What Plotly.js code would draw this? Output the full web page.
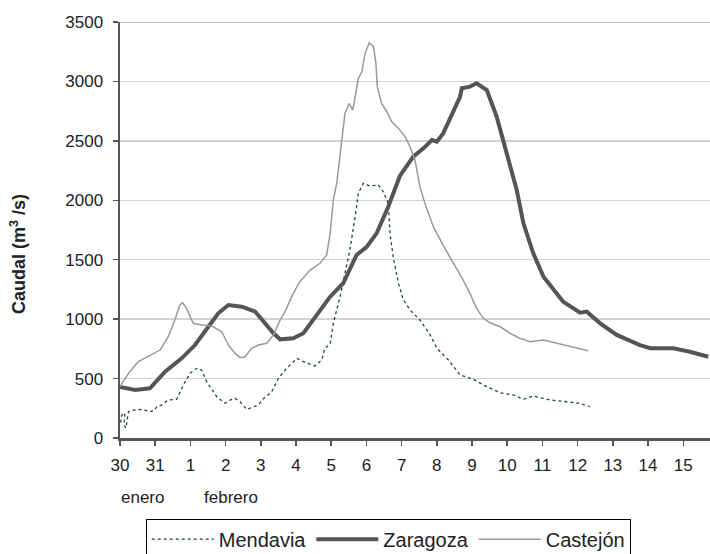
<!DOCTYPE html>
<html>
<head>
<meta charset="utf-8">
<script src="https://cdn.plot.ly/plotly-3.0.1.min.js"></script>
<style>html,body{margin:0;padding:0;background:#fff;}#chart{width:710px;height:554px;}</style>
</head>
<body>
<div id="chart"></div>
<script>
// x = days since 30 January
const dayLabels = ['30','31','1','2','3','4','5','6','7','8','9','10','11','12','13','14','15'];
const monthLabels = ['enero','febrero'];

const mendaviaX = [0.02,0.05,0.14,0.11,0.17,0.24,0.38,0.66,0.85,0.99,1.04,1.18,1.37,1.61,1.80,1.99,2.18,2.32,2.46,2.75,2.98,3.13,3.27,3.41,3.60,3.79,3.93,4.07,4.31,4.50,4.69,4.88,5.02,5.21,5.54,5.73,5.82,5.97,6.06,6.25,6.39,6.53,6.68,6.77,6.91,7.10,7.34,7.48,7.62,7.67,7.76,7.91,8.05,8.24,8.52,8.81,9.00,9.33,9.66,10.04,10.32,10.80,11.17,11.46,11.74,12.22,12.69,13.07,13.35];
const mendaviaY = [129,193,210,109,84,221,235,241,221,235,263,277,320,326,446,544,586,572,474,347,292,320,333,305,241,263,277,330,389,502,572,628,670,642,606,656,755,790,965,1189,1386,1582,1862,2059,2143,2120,2129,2072,1974,1722,1525,1302,1161,1077,993,867,755,656,530,494,446,381,362,326,353,320,305,292,263];

const zaragozaX = [0.00,0.43,0.85,1.28,1.75,2.13,2.51,2.79,3.08,3.46,3.84,4.07,4.36,4.55,4.92,5.21,5.49,5.97,6.34,6.72,7.01,7.29,7.62,7.95,8.33,8.62,8.86,9.00,9.18,9.47,9.66,9.71,9.94,10.13,10.42,10.70,10.99,11.27,11.46,11.74,12.03,12.25,12.59,13.07,13.26,13.64,14.11,14.77,15.06,15.72,16.19,16.71];
const zaragozaY = [429,404,418,558,670,782,936,1049,1119,1105,1063,978,881,830,839,881,993,1189,1302,1540,1609,1722,1946,2205,2367,2437,2507,2493,2563,2759,2871,2942,2956,2984,2928,2703,2395,2086,1806,1554,1357,1270,1147,1054,1063,965,867,782,755,755,726,684];

const castejonX = [0.00,0.24,0.52,0.71,0.90,1.14,1.37,1.56,1.70,1.78,1.89,2.08,2.32,2.61,2.89,3.08,3.27,3.41,3.55,3.74,3.93,4.17,4.36,4.55,4.69,4.92,5.11,5.40,5.68,5.87,5.97,6.06,6.16,6.25,6.33,6.39,6.51,6.61,6.68,6.77,6.87,6.96,7.08,7.20,7.27,7.31,7.43,7.58,7.72,7.91,8.10,8.24,8.38,8.52,8.66,8.90,9.18,9.47,9.75,9.94,10.13,10.32,10.51,10.80,11.08,11.36,11.65,12.03,12.41,12.88,13.30];
const castejonY = [432,544,642,670,698,740,852,993,1119,1138,1091,965,951,942,894,782,712,676,684,755,782,797,867,993,1063,1217,1315,1413,1470,1540,1722,2002,2150,2395,2591,2731,2815,2759,2871,3025,3081,3236,3325,3292,3152,2956,2815,2745,2661,2605,2535,2451,2339,2114,1974,1778,1620,1470,1329,1217,1091,1007,970,936,881,839,810,824,797,768,734];

const seriesNames = ['Mendavia','Zaragoza','Castejón'];

const font = 'Liberation Sans, Arial, sans-serif';

const traces = [
  {x: mendaviaX, y: mendaviaY, name: seriesNames[0], type: 'scatter', mode: 'lines',
   line: {color: '#1e4a34', width: 1.3, dash: 'dot'}},
  {x: zaragozaX, y: zaragozaY, name: seriesNames[1], type: 'scatter', mode: 'lines',
   line: {color: '#555555', width: 4}},
  {x: castejonX, y: castejonY, name: seriesNames[2], type: 'scatter', mode: 'lines',
   line: {color: '#9a9a9a', width: 1.5}}
];

const layout = {
  width: 710, height: 554,
  margin: {l: 120, r: 0, t: 22, b: 116, autoexpand: false},
  paper_bgcolor: '#ffffff', plot_bgcolor: '#ffffff',
  font: {family: font, size: 17, color: '#222'},
  showlegend: true,
  legend: {
    orientation: 'h', x: 0.0436, y: -0.194, xanchor: 'left', yanchor: 'top',
    bordercolor: '#000', borderwidth: 1, bgcolor: '#fff',
    font: {family: font, size: 20, color: '#222'},
    itemwidth: 62, tracegroupgap: 0
  },
  xaxis: {
    range: [0, 16.76], tickmode: 'array',
    tickvals: dayLabels.map((_, i) => i), ticktext: dayLabels,
    showgrid: false, zeroline: false,
    showline: true, linecolor: '#555', linewidth: 2.5,
    ticks: 'outside', ticklen: 5, tickwidth: 1.5, tickcolor: '#555',
    ticklabelstandoff: 5,
    tickfont: {family: font, size: 17, color: '#222'}
  },
  yaxis: {
    range: [0, 3500], dtick: 500, tick0: 0,
    showgrid: true, gridcolor: '#d3d3d3', gridwidth: 1.5, zeroline: false,
    showline: true, linecolor: '#555', linewidth: 2.5,
    ticks: 'outside', ticklen: 5, tickwidth: 1.5, tickcolor: '#555',
    ticklabelstandoff: 6,
    tickfont: {family: font, size: 17, color: '#222'}
  },
  shapes: [
    {type: 'line', xref: 'paper', yref: 'y', x0: 0, x1: 1, y0: 3500, y1: 3500,
     line: {color: '#a8a8a8', width: 1.5}}
  ],
  annotations: [
    {text: 'Caudal (m<sup>3</sup> /s)', textangle: -90, xref: 'paper', yref: 'paper',
     x: -0.173, y: 0.442, xanchor: 'center', yanchor: 'middle', showarrow: false,
     font: {family: font, size: 18, color: '#222', weight: 'bold'}},
    {text: monthLabels[0], xref: 'x', yref: 'paper', x: 0.65, y: -0.142,
     xanchor: 'center', yanchor: 'middle', showarrow: false,
     font: {family: font, size: 17, color: '#222'}},
    {text: monthLabels[1], xref: 'x', yref: 'paper', x: 3.15, y: -0.142,
     xanchor: 'center', yanchor: 'middle', showarrow: false,
     font: {family: font, size: 17, color: '#222'}}
  ]
};

Plotly.newPlot('chart', traces, layout, {displayModeBar: false, staticPlot: true});
</script>
</body>
</html>
